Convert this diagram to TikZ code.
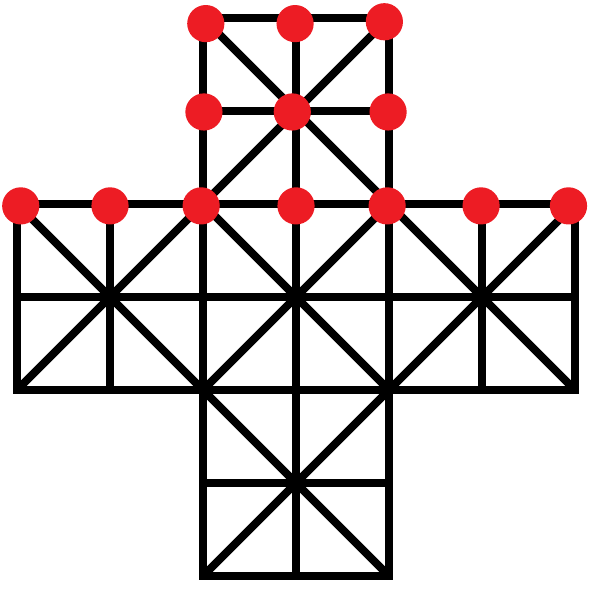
\documentclass[tikz,border=0pt]{standalone}
\usepackage{tikz}
\definecolor{diemdo}{RGB}{237,28,36}
\tikzset{
  diem/.style={circle, fill=diemdo, inner sep=0pt, minimum size=0.40cm}
}
\begin{document}
\begin{tikzpicture}[line width=2.45pt]
				% Khung hình
				\useasboundingbox (-0.183,-0.161) rectangle (6.161,6.194);
				
				% Năm khối vuông 2x2 tạo thành hình chữ thập
				\foreach \x/\y in {2/4, 0/2, 2/2, 4/2, 2/0} {
					\draw (\x,\y) rectangle ++(2,2);
					\draw (\x+1,\y) -- ++(0,2);
					\draw (\x,\y+1) -- ++(2,0);
					\draw (\x,\y) -- ++(2,2);
					\draw (\x+2,\y) -- ++(-2,2);
				}
				
				% Các điểm đỏ ở khối trên (đặt hơi lệch như hình gốc)
				\foreach \ten/\px/\py in {t2/2.03/5.94, t3/2.99/5.94, t4/3.95/5.96,
					m2/2.01/4.99, m3/2.96/4.99, m4/3.99/4.99} {
					\node[diem] (\ten) at (\px,\py) {};
				}
				% Hàng điểm đỏ ngang
				\foreach \ten/\px in {h0/0.04, h1/1.0, h2/1.98, h3/3.0, h4/3.98, h5/4.99, h6/5.93} {
					\node[diem] (\ten) at (\px,3.98) {};
				}
			\end{tikzpicture}
\end{document}
